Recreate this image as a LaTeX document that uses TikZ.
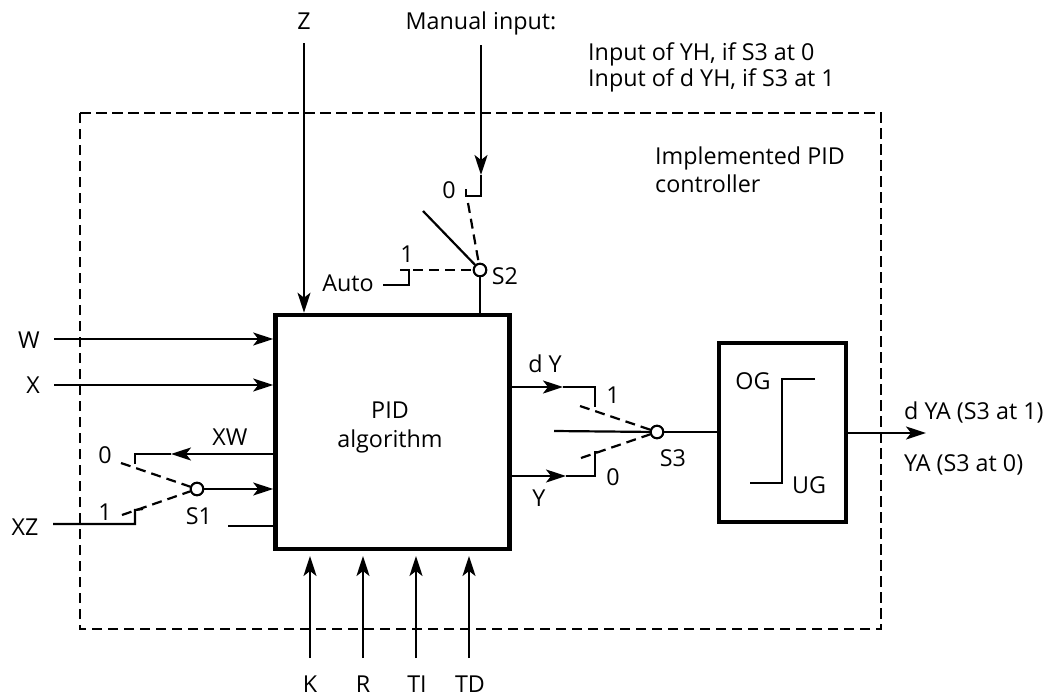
\documentclass[tikz,border=0pt]{standalone}
\usepackage{fontspec}
\setmainfont{Open Sans}
\usetikzlibrary{arrows.meta}
\tikzset{
  x=1pt,y=-1pt,
  line/.style={line width=2.2pt,black},
  arr/.style={line,-{Stealth[length=20pt,width=13pt,inset=5pt]}},
  swdash/.style={line width=2.2pt,dash pattern=on 10pt off 6pt},
  frame/.style={line width=2.4pt,dash pattern=on 10.5pt off 5.5pt},
  box/.style={draw,line width=4.6pt,inner sep=0pt},
  sw/.style={draw,circle,line width=2pt,fill=white,minimum size=12.5pt,inner sep=0pt},
  lab/.style={inner sep=0pt,font=\fontsize{23.3}{29}\selectfont},
  labl/.style={lab,anchor=west,align=left},
  pt/.style={coordinate}
}
\begin{document}
\begin{tikzpicture}
\useasboundingbox (0,0) rectangle (1057,696);
% frame
\node[pt] (f1) at (80,113) {};
\node[pt] (f2) at (881,113) {};
\node[pt] (f3) at (881,629) {};
\node[pt] (f4) at (80,629) {};
\draw[frame] (f1) -- (f2) -- (f3) -- (f4) -- cycle;
% blocks
\node[box,minimum width=234pt,minimum height=234pt] (pid) at (392.5,432) {};
\node[box,minimum width=127pt,minimum height=179pt] (lim) at (782.5,432.5) {};
\node[lab,align=center] (pidtxt) at (390,427) {PID\\algorithm};
% top inputs
\node[lab] (z) at (304,21) {Z};
\node[lab] (man) at (481,23) {Manual input:};
\node[labl] (note1) at (588,54) {Input of YH, if S3 at 0};
\node[labl] (note2) at (588,80) {Input of d YH, if S3 at 1};
\node[labl] (impl1) at (655,158) {Implemented PID};
\node[labl] (impl2) at (655,184) {controller};
\node[pt] (zs) at (304,43) {};
\draw[arr] (zs) -- (zs |- pid.north);
% S2
\node[sw] (s2) at (480,270) {};
\node[lab] (s2l) at (505,276) {S2};
\node[lab] (l0a) at (449,190) {0};
\node[lab] (l1a) at (407,254) {1};
\node[lab] (auto) at (348,283) {Auto};
\node[pt] (ms) at (481,45) {};
\node[pt] (mt) at (481,175) {};
\node[pt] (mb) at (481,196) {};
\node[pt] (mh) at (466,196) {};
\node[pt] (mu) at (466,189) {};
\draw[arr] (ms) -- (mt);
\draw[line] (mt) -- (mb) -- (mh) -- (mu);
\node[pt] (d0) at (468,203) {};
\draw[swdash] (d0) -- (s2);
\node[pt] (lever) at (423,211) {};
\draw[line] (lever) -- (s2);
\node[pt] (a1) at (383,285) {};
\node[pt] (a2) at (409,285) {};
\node[pt] (a3) at (409,270) {};
\node[pt] (a4) at (400,270) {};
\draw[line] (a1) -- (a2) -- (a3) -- (a4);
\node[pt] (a5) at (413,270) {};
\draw[swdash] (a5) -- (s2);
\draw[line] (s2) -- (s2 |- pid.north);
\node[sw] at (s2) {};
% left inputs
\node[lab] (w) at (29,340) {W};
\node[lab] (xin) at (33,385) {X};
\node[lab] (xz) at (25,527) {XZ};
\node[lab] (xw) at (230,437) {XW};
\node[lab] (l0b) at (105,455) {0};
\node[lab] (l1b) at (105,512) {1};
\node[lab] (s1l) at (199,516) {S1};
\node[pt] (ws) at (54,339) {};
\node[pt] (xs) at (54,385) {};
\draw[arr] (ws) -- (ws -| pid.west);
\draw[arr] (xs) -- (xs -| pid.west);
\node[sw] (s1) at (197,489) {};
\draw[arr] (s1) -- (s1 -| pid.west);
\node[pt] (xws) at (275,454) {};
\node[pt] (xwt) at (171,454) {};
\node[pt] (xwe) at (135,454) {};
\node[pt] (xwd) at (135,464) {};
\draw[arr] (xws) -- (xwt);
\draw[line] (xwt) -- (xwe) -- (xwd);
\node[pt] (d1) at (121,463) {};
\node[pt] (d2) at (122,515) {};
\draw[swdash] (d1) -- (s1);
\draw[swdash] (d2) -- (s1);
\node[pt] (z1) at (53,524) {};
\node[pt] (z2) at (135,524) {};
\node[pt] (z3) at (135,510) {};
\node[pt] (z4) at (143,509) {};
\draw[line] (z1) -- (z2) -- (z3) -- (z4);
\node[pt] (stub) at (228,526) {};
\draw[line] (stub) -- (stub -| pid.west);
\node[sw] at (s1) {};
% bottom inputs
\node[lab] (k) at (310,684) {K};
\node[lab] (r) at (363,684) {R};
\node[lab] (ti) at (417,684) {TI};
\node[lab] (td) at (470,684) {TD};
\foreach \n/\xx in {ks/310,rs/363,tis/416,tds/469} {\node[pt] (\n) at (\xx,658) {};
  \node[pt] (\n t) at (\xx,556) {};
  \draw[arr] (\n) -- (\n t);}
% S3
\node[lab] (dy) at (545,364) {d Y};
\node[lab] (y) at (539,498) {Y};
\node[lab] (l1c) at (613,395) {1};
\node[lab] (l0c) at (613,477) {0};
\node[lab] (s3l) at (673,458) {S3};
\node[sw] (s3) at (657,432) {};
\node[pt] (dyt) at (563,387) {};
\node[pt] (dyc) at (595,387) {};
\node[pt] (dyd) at (595,407) {};
\draw[arr] (dyt -| pid.east) -- (dyt);
\draw[line] (dyt) -- (dyc) -- (dyd);
\node[pt] (yt) at (566,476) {};
\node[pt] (yc) at (595,476) {};
\node[pt] (yu) at (595,452) {};
\node[pt] (yr) at (600,452) {};
\draw[arr] (yt -| pid.east) -- (yt);
\draw[line] (yt) -- (yc) -- (yu) -- (yr);
\node[pt] (e1) at (580,406) {};
\node[pt] (e2) at (581,458) {};
\draw[swdash] (e1) -- (s3);
\draw[swdash] (e2) -- (s3);
\node[pt] (lev3) at (554,431) {};
\draw[line] (lev3) -- (s3);
\draw[line] (s3) -- (s3 -| lim.west);
\node[sw] at (s3) {};
% limiter
\node[lab] (og) at (753,381) {OG};
\node[lab] (ug) at (809,485) {UG};
\node[pt] (c1) at (815,379) {};
\node[pt] (c2) at (782,379) {};
\node[pt] (c3) at (782,483) {};
\node[pt] (c4) at (750,483) {};
\draw[line] (c1) -- (c2) -- (c3) -- (c4);
\node[pt] (out) at (926,433) {};
\draw[arr] (out -| lim.east) -- (out);
\node[labl] (dya) at (904,412) {d YA (S3 at 1)};
\node[labl] (ya) at (904,465) {YA (S3 at 0)};
\end{tikzpicture}
\end{document}
